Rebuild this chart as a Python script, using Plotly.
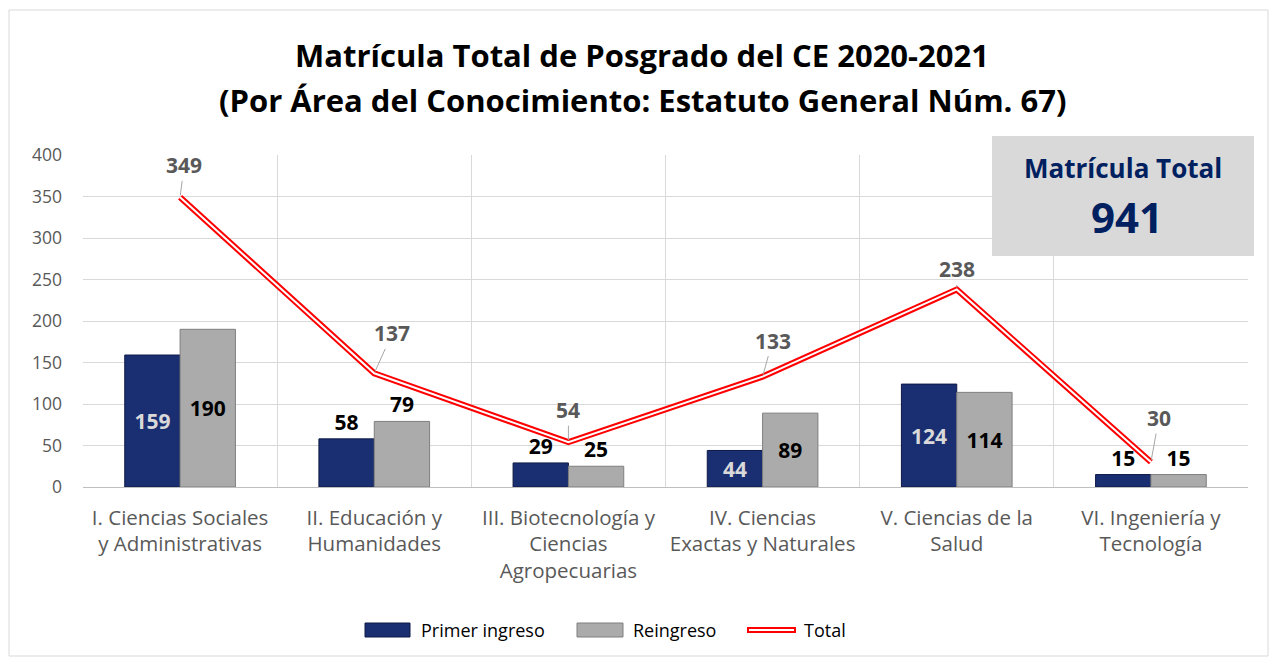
import plotly.graph_objects as go

categories = ["I. Ciencias Sociales<br>y Administrativas", "II. Educación y<br>Humanidades",
              "III. Biotecnología y<br>Ciencias<br>Agropecuarias", "IV. Ciencias<br>Exactas y Naturales",
              "V. Ciencias de la<br>Salud", "VI. Ingeniería y<br>Tecnología"]
primer = [159, 58, 29, 44, 124, 15]
reingreso = [190, 79, 25, 89, 114, 15]
total = [349, 137, 54, 133, 238, 30]
y_ticks = [0, 50, 100, 150, 200, 250, 300, 350, 400]
matricula_total = 941
series_names = ["Primer ingreso", "Reingreso", "Total"]
title_lines = ["Matrícula Total de Posgrado del CE 2020-2021",
               "(Por Área del Conocimiento: Estatuto General Núm. 67)"]

xs = list(range(len(categories)))
FONT = "Open Sans"
NAVY = "#1a2f72"
GRAY = "#ababab"

primer_pos = ["inside", "outside", "outside", "inside", "inside", "outside"]
reingreso_pos = ["inside", "outside", "outside", "inside", "inside", "outside"]
label_offsets = [(4, -32), (18, -40), (0, -32), (10, -36), (0, -20), (8, -44)]

fig = go.Figure()
fig.add_trace(go.Bar(
    x=xs, y=primer, name=series_names[0],
    marker=dict(color=NAVY, line=dict(color="#0e1a45", width=1)),
    text=primer, texttemplate="<b>%{y}</b>", textposition=primer_pos,
    insidetextanchor="middle",
    insidetextfont=dict(color="#d9d9d9", size=21, family=FONT),
    outsidetextfont=dict(color="#000000", size=21, family=FONT),
    cliponaxis=False,
))
fig.add_trace(go.Bar(
    x=xs, y=reingreso, name=series_names[1],
    marker=dict(color=GRAY, line=dict(color="#7f7f7f", width=1)),
    text=reingreso, texttemplate="<b>%{y}</b>", textposition=reingreso_pos,
    insidetextanchor="middle",
    insidetextfont=dict(color="#000000", size=21, family=FONT),
    outsidetextfont=dict(color="#000000", size=21, family=FONT),
    cliponaxis=False,
))
fig.add_trace(go.Scatter(
    x=xs, y=total, name=series_names[2], mode="lines",
    line=dict(color="#ff0000", width=6), cliponaxis=False,
))
fig.add_trace(go.Scatter(
    x=xs, y=total, mode="lines", hoverinfo="skip",
    line=dict(color="#ffffff", width=2), cliponaxis=False,
))

for i, (v, (ax, ay)) in enumerate(zip(total, label_offsets)):
    fig.add_annotation(x=i, y=v, text=f"<b>{v}</b>", showarrow=True,
                       arrowhead=0, arrowwidth=1, arrowcolor="#a6a6a6",
                       ax=ax, ay=ay, standoff=2,
                       font=dict(size=21, color="#595959", family=FONT))

def fx(p):
    return (p - 83) / 1165

def fy(p):
    return (487 - p) / 332

# title as two lines
for line, ypos in zip(title_lines, [55, 100]):
    fig.add_annotation(xref="paper", yref="paper", x=fx(642), y=fy(ypos),
                       xanchor="center", yanchor="middle", text=f"<b>{line}</b>",
                       showarrow=False, font=dict(size=31, color="#000000", family=FONT))

# Total box
fig.add_shape(type="rect", xref="paper", yref="paper",
              x0=fx(992), x1=fx(1254), y0=fy(256), y1=fy(136),
              fillcolor="#d9d9d9", line=dict(width=0), layer="above")
fig.add_annotation(xref="paper", yref="paper", x=fx(1123), y=fy(168),
                   xanchor="center", yanchor="middle",
                   text="<b>Matrícula Total</b>", showarrow=False,
                   font=dict(size=26, color="#002060", family=FONT))
fig.add_annotation(xref="paper", yref="paper", x=fx(1127), y=fy(216),
                   xanchor="center", yanchor="middle",
                   text=f"<b>{matricula_total}</b>", showarrow=False,
                   font=dict(size=42, color="#002060", family=FONT))
# outer border
fig.add_shape(type="rect", xref="paper", yref="paper",
              x0=fx(9), x1=fx(1268), y0=fy(656), y1=fy(10),
              line=dict(color="#d9d9d9", width=1), fillcolor="rgba(0,0,0,0)", layer="below")

# custom legend
LY = 630
fig.add_shape(type="rect", xref="paper", yref="paper",
              x0=fx(365), x1=fx(410), y0=fy(637), y1=fy(623),
              fillcolor=NAVY, line=dict(color="#0e1a45", width=1))
fig.add_shape(type="rect", xref="paper", yref="paper",
              x0=fx(577), x1=fx(623), y0=fy(637), y1=fy(623),
              fillcolor=GRAY, line=dict(color="#7f7f7f", width=1))
fig.add_shape(type="line", xref="paper", yref="paper",
              x0=fx(747), x1=fx(796), y0=fy(LY), y1=fy(LY),
              line=dict(color="#ff0000", width=6))
fig.add_shape(type="line", xref="paper", yref="paper",
              x0=fx(749), x1=fx(794), y0=fy(LY), y1=fy(LY),
              line=dict(color="#ffffff", width=2))
for name, xpos in zip(series_names, [419, 631, 802]):
    fig.add_annotation(xref="paper", yref="paper", x=fx(xpos), y=fy(LY),
                       xanchor="left", yanchor="middle", text=name, showarrow=False,
                       font=dict(size=18, color="#000000", family=FONT))

fig.update_layout(
    width=1278, height=661,
    margin=dict(l=75, r=38, t=147, b=182),
    paper_bgcolor="white", plot_bgcolor="white",
    font=dict(family=FONT, color="#595959", size=17),
    barmode="group", bargap=0.43, bargroupgap=0,
    showlegend=False,
    xaxis=dict(range=[-0.5, 5.5], tickvals=xs, ticktext=categories, showgrid=False,
               minor=dict(tick0=-0.5, dtick=1, showgrid=True, gridcolor="#d9d9d9", gridwidth=1, ticks=""),
               showline=True, linecolor="#bfbfbf", linewidth=1, ticks="", zeroline=False,
               ticklabelstandoff=12,
               tickfont=dict(size=20.5, color="#595959", family=FONT)),
    yaxis=dict(range=[0, 400], tickvals=y_ticks, showgrid=True, gridcolor="#d9d9d9", gridwidth=1,
               zeroline=False, showline=False, ticks="", ticklabelstandoff=20,
               tickfont=dict(size=17.5, color="#595959", family=FONT)),
)

fig.write_html("out.html")
